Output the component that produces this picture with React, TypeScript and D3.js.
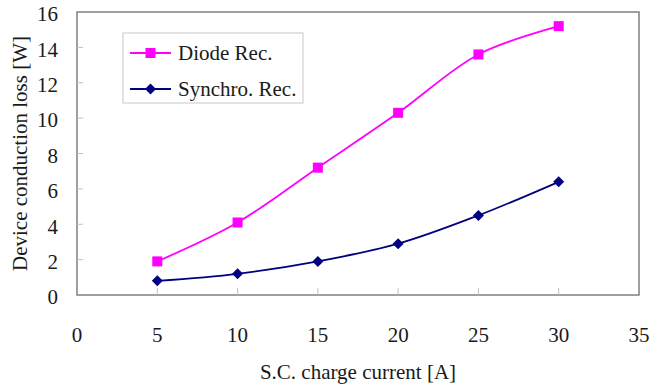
import React from "react";
import * as d3 from "d3";

const xValues = [5, 10, 15, 20, 25, 30];
const diodeRec = [1.9, 4.1, 7.2, 10.3, 13.6, 15.2];
const synchroRec = [0.8, 1.2, 1.9, 2.9, 4.5, 6.4];
const xTicks = [0, 5, 10, 15, 20, 25, 30, 35];
const yTicks = [0, 2, 4, 6, 8, 10, 12, 14, 16];
const seriesNames = ["Diode Rec.", "Synchro. Rec."];

const W = 651, H = 385;
const left = 77, right = 639, top = 12, bottom = 295;
const font = "'Liberation Serif', 'Times New Roman', serif";
const fs = 21;

export default function App() {
  const x = d3.scaleLinear().domain([0, 35]).range([left, right]);
  const y = d3.scaleLinear().domain([0, 16]).range([bottom, top]);
  const line = d3
    .line<number>()
    .x((_, i) => x(xValues[i]))
    .y((d) => y(d))
    .curve(d3.curveCatmullRom.alpha(0.5));
  const magenta = "#FF00FF";
  const navy = "#000080";
  const diamond = (cx: number, cy: number, r: number) =>
    `M${cx},${cy - r}L${cx + r},${cy}L${cx},${cy + r}L${cx - r},${cy}Z`;

  return (
    <svg
      width={W}
      height={H}
      style={{ position: "absolute", left: 0, top: 0 }}
      fontFamily={font}
    >
      <rect x={0} y={0} width={W} height={H} fill="#fff" />
      <rect
        x={left}
        y={top}
        width={right - left}
        height={bottom - top}
        fill="none"
        stroke="#808080"
        strokeWidth={1.5}
      />
      {yTicks.slice(1, -1).map((t) => (
        <line
          key={"yt" + t}
          x1={left}
          x2={left + 6}
          y1={y(t)}
          y2={y(t)}
          stroke="#c0c0c0"
          strokeWidth={1}
        />
      ))}
      {xTicks.slice(1, -1).map((t) => (
        <line
          key={"xt" + t}
          x1={x(t)}
          x2={x(t)}
          y1={bottom}
          y2={bottom - 7}
          stroke="#c0c0c0"
          strokeWidth={1}
        />
      ))}
      {yTicks.map((t) => (
        <text
          key={"yl" + t}
          x={left - 19}
          y={y(t) + 2}
          dy="0.35em"
          textAnchor="end"
          fontSize={fs}
          fill="#1a1a1a"
        >
          {t}
        </text>
      ))}
      {xTicks.map((t) => (
        <text
          key={"xl" + t}
          x={x(t)}
          y={342}
          textAnchor="middle"
          fontSize={fs}
          fill="#1a1a1a"
        >
          {t}
        </text>
      ))}
      <text
        x={(left + right) / 2}
        y={379}
        textAnchor="middle"
        fontSize={fs}
        fill="#1a1a1a"
      >
        S.C. charge current [A]
      </text>
      <text
        transform={`translate(27,${(top + bottom) / 2}) rotate(-90)`}
        textAnchor="middle"
        fontSize={fs}
        fill="#1a1a1a"
      >
        Device conduction loss [W]
      </text>

      <path d={line(diodeRec) || ""} fill="none" stroke={magenta} strokeWidth={1.8} />
      <path d={line(synchroRec) || ""} fill="none" stroke={navy} strokeWidth={1.8} />
      {diodeRec.map((v, i) => (
        <rect
          key={"d" + i}
          x={x(xValues[i]) - 5}
          y={y(v) - 5}
          width={10}
          height={10}
          fill={magenta}
        />
      ))}
      {synchroRec.map((v, i) => (
        <path key={"s" + i} d={diamond(x(xValues[i]), y(v), 5.5)} fill={navy} />
      ))}

      <rect x={123} y={33} width={180} height={70} fill="#fff" stroke="#c8c8c8" strokeWidth={1} />
      <line x1={130} x2={171} y1={53} y2={53} stroke={magenta} strokeWidth={1.8} />
      <rect x={150.5 - 5} y={53 - 5} width={10} height={10} fill={magenta} />
      <text x={178} y={53} dy="0.35em" fontSize={fs} fill="#1a1a1a">
        {seriesNames[0]}
      </text>
      <line x1={130} x2={171} y1={89} y2={89} stroke={navy} strokeWidth={1.8} />
      <path d={diamond(150.5, 89, 5.5)} fill={navy} />
      <text x={178} y={89} dy="0.35em" fontSize={fs} fill="#1a1a1a">
        {seriesNames[1]}
      </text>
    </svg>
  );
}
